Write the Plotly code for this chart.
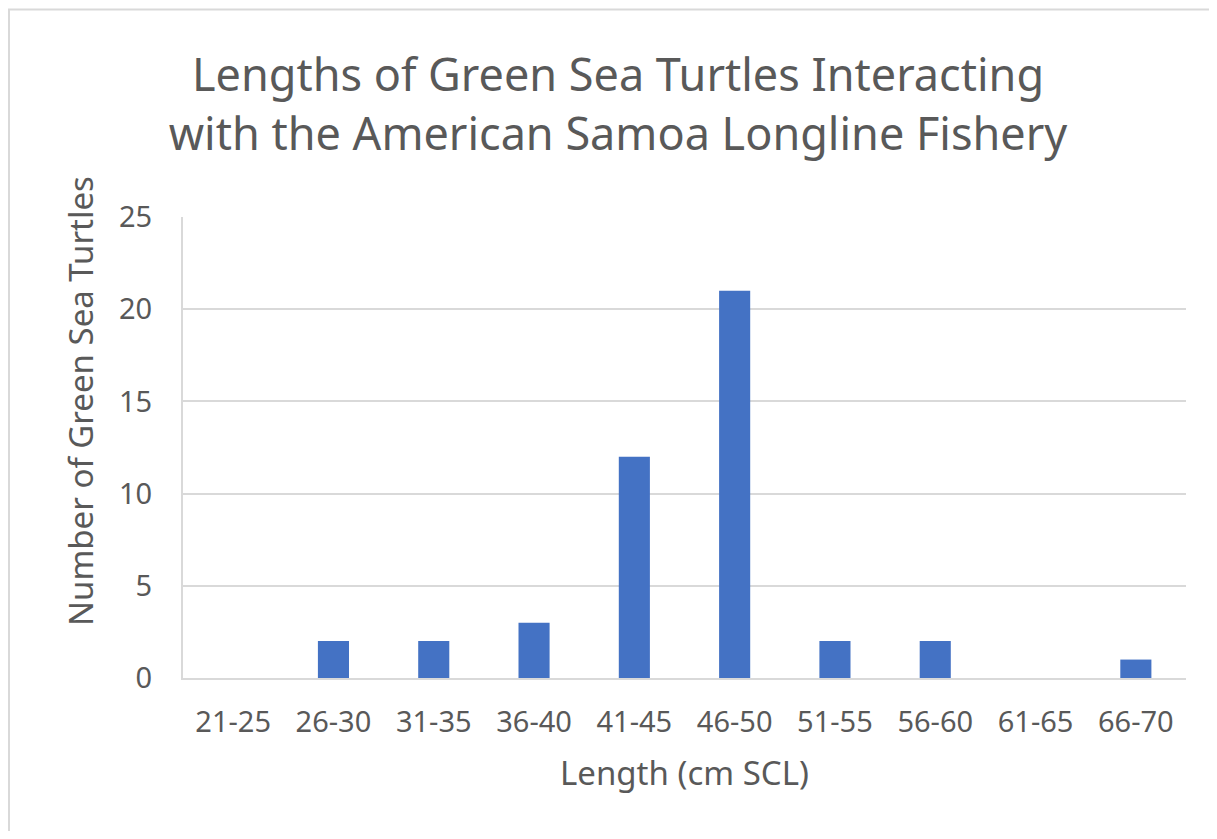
import plotly.graph_objects as go

categories = ["21-25", "26-30", "31-35", "36-40", "41-45", "46-50", "51-55", "56-60", "61-65", "66-70"]
counts = [0, 2, 2, 3, 12, 21, 2, 2, 0, 1]
y_ticks = [0, 5, 10, 15, 20, 25]

# the page body adds an 8px margin, so the figure starts at (8, 8)
OFF = 8
W, H = 1217 - 2 * OFF, 839 - 2 * OFF
L, R, T, B = 183 - OFF, 1186 - OFF, 217 - OFF, 678 - OFF
pw, ph = R - L, B - T

def px_x(x):
    return (x - OFF - L) / pw

def px_y(y):
    return (B - (y - OFF)) / ph

FONT = "Noto Sans"
GREY = "#595959"
GRID = "#d9d9d9"

fig = go.Figure(go.Bar(x=categories, y=counts, marker=dict(color="#4472C4", line=dict(width=0)), width=0.31))

fig.update_layout(
    width=W, height=H, autosize=False,
    margin=dict(l=L, r=W - R, t=T, b=H - B, pad=0),
    paper_bgcolor="white", plot_bgcolor="white",
    font=dict(family=FONT, color=GREY),
    title=dict(text="Lengths of Green Sea Turtles Interacting<br>with the American Samoa Longline Fishery",
               x=(618 - OFF) / W, xanchor="center", xref="container",
               y=1 - (91 - OFF) / H, yanchor="middle",
               font=dict(family=FONT, size=45, color=GREY)),
    showlegend=False,
    bargap=0.69,
)
fig.update_xaxes(showgrid=False, showline=True, linecolor=GRID, linewidth=2, ticks="",
                 tickfont=dict(size=29, color=GREY), ticklabelstandoff=17)
fig.update_yaxes(range=[0, 25], tickvals=y_ticks, showgrid=True, gridcolor=GRID, gridwidth=2,
                 showline=True, linecolor=GRID, linewidth=2, zeroline=False, ticks="",
                 tickfont=dict(size=29, color=GREY), ticklabelstandoff=23)

fig.add_annotation(text="Length (cm SCL)", xref="paper", yref="paper",
                   x=px_x(684), y=px_y(772), xanchor="center", yanchor="middle",
                   showarrow=False, font=dict(family=FONT, size=33, color=GREY))
fig.add_annotation(text="Number of Green Sea Turtles", xref="paper", yref="paper",
                   x=px_x(80), y=px_y(401), xanchor="center", yanchor="middle", textangle=-90,
                   showarrow=False, font=dict(family=FONT, size=33, color=GREY))

fig.add_shape(type="rect", xref="paper", yref="paper",
              x0=px_x(9), x1=px_x(1240), y0=px_y(860), y1=px_y(9.5),
              line=dict(color=GRID, width=2), fillcolor="rgba(0,0,0,0)", layer="below")

fig.write_html("out.html")
